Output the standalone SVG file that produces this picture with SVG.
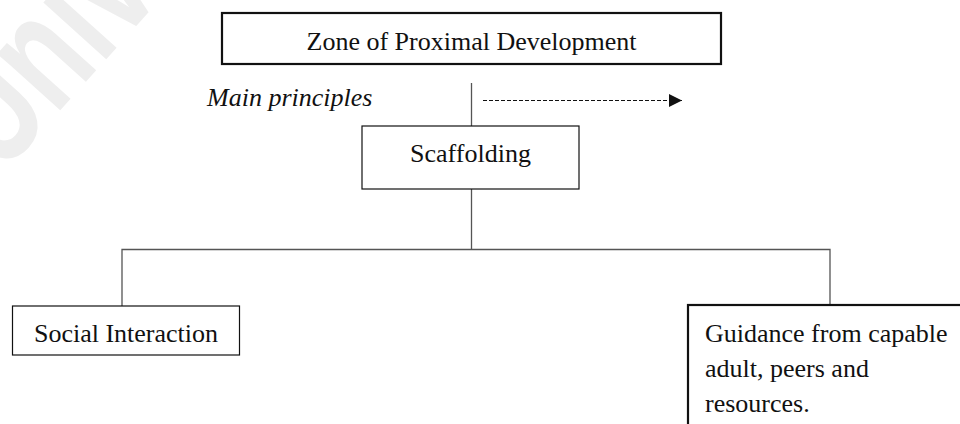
<svg xmlns="http://www.w3.org/2000/svg" width="960" height="424" viewBox="0 0 960 424">
  <style>
    .lbl { font-family: "Liberation Serif", "Times New Roman", serif; font-size: 26px; fill: #111; }
    .box { fill: #fff; stroke: #111; }
    .thick { stroke-width: 2.2; }
    .thin { stroke-width: 1.2; }
    .link { stroke: #555; stroke-width: 1.3; fill: none; }
  </style>
  <defs>
    <marker id="arrowHead" markerWidth="13" markerHeight="13" refX="13" refY="6.5" orient="auto" markerUnits="userSpaceOnUse">
      <path d="M0,0 L13,6.5 L0,13 Z" fill="#111"/>
    </marker>
  </defs>

  <rect width="960" height="424" fill="#fff"/>

  <!-- faint background watermark, running off the top-left corner -->
  <text transform="translate(1,176) rotate(-48) scale(0.7,1)" font-family="Liberation Sans, Arial, sans-serif" font-weight="bold" font-size="160" fill="#eeeeee">Univ</text>

  <!-- connectors -->
  <g id="connectors">
    <line class="link" x1="471.5" y1="83" x2="471.5" y2="126"/>
    <line x1="483" y1="100.5" x2="682" y2="100.5" stroke="#111" stroke-width="1.2" stroke-dasharray="4 2" marker-end="url(#arrowHead)"/>
    <line class="link" x1="471.5" y1="189" x2="471.5" y2="249.5"/>
    <polyline class="link" points="122,306 122,249.5 830,249.5 830,305"/>
  </g>

  <text class="lbl" x="207" y="106" font-style="italic">Main principles</text>

  <g id="zpd">
    <rect class="box thick" x="222" y="13" width="499" height="51"/>
    <text class="lbl" x="471.5" y="50" text-anchor="middle">Zone of Proximal Development</text>
  </g>

  <g id="scaffolding">
    <rect class="box thin" x="362" y="126" width="217" height="63"/>
    <text class="lbl" x="470.5" y="162" text-anchor="middle">Scaffolding</text>
  </g>

  <g id="social-interaction">
    <rect class="box thin" x="12.5" y="306" width="227" height="49"/>
    <text class="lbl" x="126" y="342" text-anchor="middle">Social Interaction</text>
  </g>

  <g id="guidance">
    <rect class="box thick" x="688" y="305" width="300" height="150"/>
    <text class="lbl" x="705" y="342">Guidance from capable</text>
    <text class="lbl" x="705" y="377">adult, peers and</text>
    <text class="lbl" x="705" y="412">resources.</text>
  </g>
</svg>
